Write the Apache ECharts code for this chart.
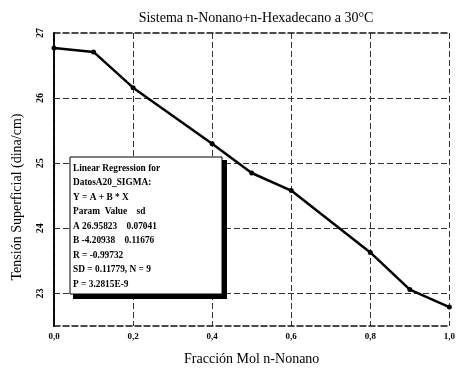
<!DOCTYPE html>
<html>
<head>
<meta charset="utf-8">
<script src="https://cdn.jsdelivr.net/npm/echarts@6/dist/echarts.min.js"></script>
<style>html,body{margin:0;padding:0;background:#fff}#c{width:458px;height:372px}</style>
</head>
<body>
<div id="c"></div>
<script>
var xValues = [0.0, 0.1, 0.2, 0.4, 0.5, 0.6, 0.8, 0.9, 1.0];
var sigma = [26.77, 26.71, 26.16, 25.30, 24.85, 24.58, 23.63, 23.06, 22.79];
var yGridValues = [23, 24, 25, 26];
var yTickLabels = [23, 24, 25, 26, 27];
var boxLines = [
  'Linear Regression for',
  'DatosA20_SIGMA:',
  'Y = A + B * X',
  'Param  Value    sd',
  'A 26.95823    0.07041',
  'B -4.20938    0.11676',
  'R = -0.99732',
  'SD = 0.11779, N = 9',
  'P = 3.2815E-9'
];
var titleText = 'Sistema n-Nonano+n-Hexadecano a 30°C';
var xName = 'Fracción Mol n-Nonano';
var yName = 'Tensión Superficial (dina/cm)';

var serif = '"Liberation Serif", "DejaVu Serif", serif';
var chart = echarts.init(document.getElementById('c'));
var dashed = {color: '#111', width: 1.5, type: [6, 3]};
var gridDash = {color: '#333', width: 1, type: [6, 3]};

var boxChildren = [
  {type: 'rect', z: 100, shape: {x: 222, y: 160, width: 5, height: 139}, style: {fill: '#000'}},
  {type: 'rect', z: 100, shape: {x: 73, y: 294, width: 154, height: 5}, style: {fill: '#000'}},
  {type: 'rect', z: 101, shape: {x: 70, y: 157, width: 152, height: 137}, style: {fill: '#fff', stroke: '#000', lineWidth: 1}}
];
boxLines.forEach(function (t, i) {
  boxChildren.push({type: 'text', z: 102, x: 73, y: 168 + i * 14.5, scaleX: 0.85,
    style: {x: 0, y: 0, text: t, fill: '#000',
    font: 'bold 11px ' + serif, textVerticalAlign: 'middle'}});
});

chart.setOption({
  animation: false,
  backgroundColor: '#fff',
  title: {text: titleText, left: 251, top: 6, textAlign: 'center',
    textStyle: {fontFamily: serif, fontSize: 14, fontWeight: 'normal', color: '#000'}},
  grid: {left: 54, right: 7, top: 33, bottom: 46},
  xAxis: [{
    type: 'value', min: 0, max: 1, interval: 0.2,
    name: xName, nameLocation: 'middle', nameGap: 26,
    nameTextStyle: {fontFamily: serif, fontSize: 14, color: '#000'},
    axisLine: {lineStyle: dashed},
    axisTick: {show: false},
    axisLabel: {margin: 6, fontFamily: serif, fontSize: 9, fontWeight: 'bold', color: '#000',
      formatter: function (v) { return v.toFixed(1).replace('.', ','); }},
    splitLine: {show: true, lineStyle: gridDash}
  }, {
    type: 'value', min: 0, max: 1, position: 'top',
    axisLine: {show: true, lineStyle: dashed}, axisTick: {show: false}, axisLabel: {show: false}, splitLine: {show: false}
  }],
  yAxis: [{
    type: 'value', min: 22.5, max: 27, interval: 0.5,
    axisLine: {show: true, lineStyle: {color: '#000', width: 2}},
    axisTick: {show: false},
    axisLabel: {margin: 9, rotate: 90, fontFamily: serif, fontSize: 10, fontWeight: 'bold', color: '#000',
      formatter: function (v) { return yTickLabels.indexOf(v) >= 0 ? String(v) : ''; }},
    splitLine: {show: false}
  }, {
    type: 'value', min: 22.5, max: 27, position: 'right',
    axisLine: {show: true, lineStyle: dashed}, axisTick: {show: false}, axisLabel: {show: false}, splitLine: {show: false}
  }],
  graphic: [
    {type: 'text', rotation: Math.PI / 2, x: 17, y: 197,
      style: {text: yName, font: '14px ' + serif, fill: '#000', textAlign: 'center', textVerticalAlign: 'middle'}},
    {type: 'group', z: 100, children: boxChildren}
  ],
  series: [{
    type: 'line',
    data: xValues.map(function (x, i) { return [x, sigma[i]]; }),
    symbol: 'circle', symbolSize: 5,
    lineStyle: {color: '#000', width: 2.5},
    itemStyle: {color: '#000'},
    z: 5,
    markLine: {
      silent: true, symbol: 'none', label: {show: false},
      lineStyle: gridDash,
      data: yGridValues.map(function (v) { return {yAxis: v}; })
    }
  }]
});
</script>
</body>
</html>
